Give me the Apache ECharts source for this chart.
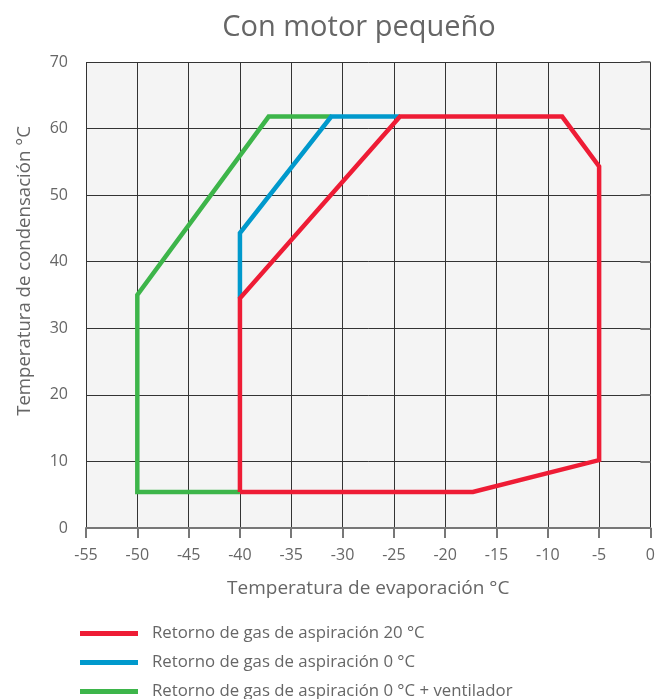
<!DOCTYPE html>
<html><head><meta charset="utf-8">
<script src="https://cdn.jsdelivr.net/npm/echarts@6/dist/echarts.min.js"></script>
<style>html,body{margin:0;padding:0;background:#fff}#c{width:658px;height:699px}</style>
</head><body><div id="c"></div>
<script>
const titleText = 'Con motor pequeño';
const xName = 'Temperatura de evaporación °C';
const yName = 'Temperatura de condensación °C';
const seriesNames = ['Retorno de gas de aspiración 20 °C','Retorno de gas de aspiración 0 °C','Retorno de gas de aspiración 0 °C + ventilador'];
const red = [[-40,5.4],[-17.3,5.4],[-5,10.2],[-5,54.3],[-8.6,61.8],[-24.4,61.8],[-40,34.5],[-40,5.4]];
const blue = [[-40,34.5],[-40,44.3],[-31.1,61.8],[-24.4,61.8]];
const green = [[-40,5.4],[-50,5.4],[-50,35],[-37.2,61.8],[-31.1,61.8]];
const colors = ['#ee1c35','#0099cc','#3db54a'];
const font = 'Open Sans';
const chart = echarts.init(document.getElementById('c'));
function mk(name, data, color, z){
  return {name, type:'line', data, symbol:'none', z, lineStyle:{color, width:4.5, join:'miter'}, itemStyle:{color}, animation:false};
}
chart.setOption({
  backgroundColor:'#fff',
  animation:false,
  title:{text:titleText, left:354, top:8, textAlign:'center', textStyle:{fontFamily:font, fontSize:29, fontWeight:'normal', color:'#666'}},
  grid:{left:86, right:7, top:62, bottom:171, backgroundColor:'#f4f4f4', show:true, borderWidth:0},
  legend:{orient:'vertical', left:80, top:625, height:120, padding:0, itemWidth:58, itemHeight:5, itemGap:12, icon:'rect',
    data:seriesNames, textStyle:{fontFamily:font, fontSize:16.8, color:'#666', padding:[0,0,0,9]}},
  xAxis:{type:'value', min:-55, max:0, interval:5, name:xName, nameLocation:'middle', nameGap:51,
    nameTextStyle:{fontFamily:font, fontSize:19, color:'#666'},
    axisLine:{show:true, onZero:false, lineStyle:{color:'#777', width:2}},
    axisTick:{show:true, length:10, lineStyle:{color:'#777', width:2}},
    axisLabel:{fontFamily:font, fontSize:16, color:'#666', margin:19},
    splitLine:{show:true, lineStyle:{color:'#333', width:1}}},
  yAxis:{type:'value', min:0, max:70, interval:10, name:yName, nameLocation:'middle', nameGap:52,
    nameTextStyle:{fontFamily:font, fontSize:18.6, color:'#666', padding:[0,0,0,48]},
    axisLine:{show:false},
    axisTick:{show:true, length:10, lineStyle:{color:'#777', width:2}},
    axisLabel:{fontFamily:font, fontSize:16, color:'#666', margin:18},
    splitLine:{show:true, lineStyle:{color:'#333', width:1}}},
  series:[mk(seriesNames[2], green, colors[2], 2), mk(seriesNames[1], blue, colors[1], 3), mk(seriesNames[0], red, colors[0], 4)]
});
</script></body></html>
